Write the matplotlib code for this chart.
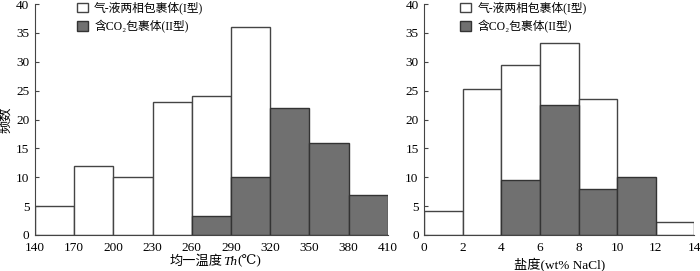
import matplotlib.pyplot as plt

plt.rcParams['font.family'] = ['Liberation Serif', 'DejaVu Serif', 'Noto Sans CJK SC']
plt.rcParams['font.size'] = 9.5
plt.rcParams['axes.unicode_minus'] = False

# homogenization temperature bins
th_edges = [140, 170, 200, 230, 260, 290, 320, 350, 380, 410]
th_type1 = [5, 12, 10, 23, 24, 36, 0, 0, 0]
th_type2 = [0, 0, 0, 0, 3.3, 10, 22, 16, 7]

# salinity bins
sal_edges = [0, 2, 4, 6, 8, 10, 12, 14]
sal_type1 = [4.1, 25.2, 29.4, 33.2, 23.5, 0, 2.2]
sal_type2 = [0, 0, 9.5, 22.6, 7.9, 10, 0]

label1 = '气-液两相包裹体(I型)'
label2 = '含CO₂包裹体(II型)'

fig = plt.figure(figsize=(7, 2.71), dpi=100)
ax1 = fig.add_axes([0.05, 0.133, 0.504, 0.852])
ax2 = fig.add_axes([0.606, 0.133, 0.386, 0.852])

edge = '#444444'
gray = '#707070'


def draw(ax, edges, s1, s2, lx):
    left = edges[:-1]
    w = [edges[i + 1] - edges[i] for i in range(len(left))]
    l1 = [x for x, v in zip(left, s1) if v > 0]
    v1 = [v for v in s1 if v > 0]
    w1 = [ww for ww, v in zip(w, s1) if v > 0]
    l2 = [x for x, v in zip(left, s2) if v > 0]
    v2 = [v for v in s2 if v > 0]
    w2 = [ww for ww, v in zip(w, s2) if v > 0]
    b1 = ax.bar(l1, v1, width=w1, align='edge', color='white', edgecolor=edge, linewidth=1.0, label=label1)
    b2 = ax.bar(l2, v2, width=w2, align='edge', color=gray, edgecolor='#333333', linewidth=1.0, label=label2)
    ax.set_xlim(edges[0], edges[-1])
    ax.set_xticks(edges)
    ax.set_ylim(0, 40)
    ax.set_yticks(range(0, 41, 5))
    ax.spines['top'].set_visible(False)
    ax.spines['right'].set_visible(False)
    ax.spines['left'].set_color(edge)
    ax.spines['bottom'].set_color(edge)
    ax.tick_params(axis='y', direction='in', length=3, color=edge, pad=4)
    ax.tick_params(axis='x', length=0, pad=5)
    ax.legend(handles=[b1, b2], loc='upper left', bbox_to_anchor=(lx, 1.01), frameon=False,
              borderpad=0, borderaxespad=0,
              handlelength=0.95, handleheight=0.9, handletextpad=0.5, labelspacing=0.45, fontsize=8.5)


draw(ax1, th_edges, th_type1, th_type2, 0.119)
draw(ax2, sal_edges, sal_type1, sal_type2, 0.133)

ax1.set_ylabel('频数', labelpad=3)
ax2.set_xlabel('盐度(wt% NaCl)', labelpad=3)

# x label of left panel with italic Th
t1 = fig.text(170 / 700, 0.012, '均一温度', va='bottom', ha='left')
t2 = ax1.annotate('Th', xy=(1, 0), xycoords=t1, va='bottom', ha='left', fontstyle='italic')
ax1.annotate('(℃)', xy=(1, 0), xycoords=t2, va='bottom', ha='left')

fig.savefig('out.png', dpi=100)
